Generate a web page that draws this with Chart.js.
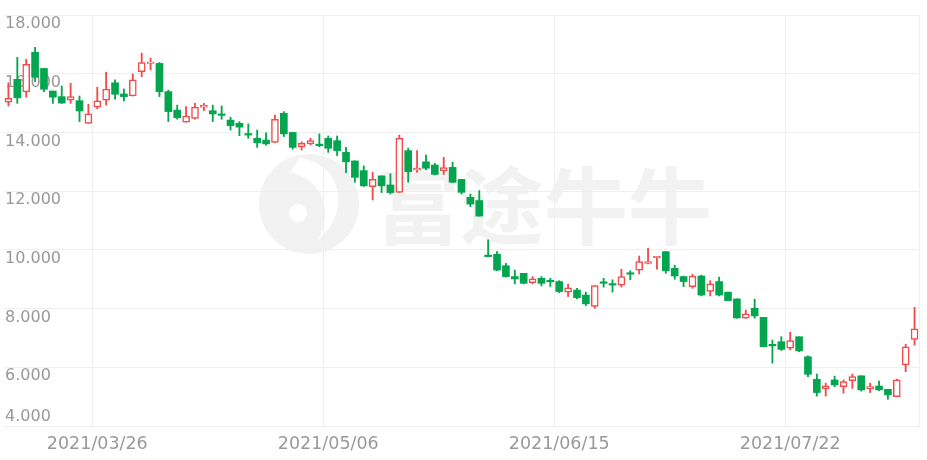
<!DOCTYPE html>
<html><head><meta charset="utf-8">
<script src="https://cdn.jsdelivr.net/npm/chart.js@4.4.1/dist/chart.umd.min.js"></script>
<style>html,body{margin:0;padding:0;background:#fff;overflow:hidden;} #wrap{width:927px;height:460px;position:relative;}</style>
</head><body><div id="wrap"><canvas id="c" width="927" height="460" style="width:927px;height:460px;"></canvas></div>
<script>
const dates = [
"2021/03/12","2021/03/15","2021/03/16","2021/03/17","2021/03/18","2021/03/19","2021/03/22","2021/03/23","2021/03/24","2021/03/25",
"2021/03/26","2021/03/29","2021/03/30","2021/03/31","2021/04/01","2021/04/07","2021/04/08","2021/04/09","2021/04/12","2021/04/13",
"2021/04/14","2021/04/15","2021/04/16","2021/04/19","2021/04/20","2021/04/21","2021/04/22","2021/04/23","2021/04/26","2021/04/27",
"2021/04/28","2021/04/29","2021/04/30","2021/05/03","2021/05/04","2021/05/05","2021/05/06","2021/05/07","2021/05/10","2021/05/11",
"2021/05/12","2021/05/13","2021/05/14","2021/05/17","2021/05/18","2021/05/20","2021/05/21","2021/05/24","2021/05/25","2021/05/26",
"2021/05/27","2021/05/28","2021/05/31","2021/06/01","2021/06/02","2021/06/03","2021/06/04","2021/06/07","2021/06/08","2021/06/09",
"2021/06/10","2021/06/11","2021/06/15","2021/06/16","2021/06/17","2021/06/18","2021/06/21","2021/06/22","2021/06/23","2021/06/24",
"2021/06/25","2021/06/28","2021/06/29","2021/06/30","2021/07/02","2021/07/05","2021/07/06","2021/07/07","2021/07/08","2021/07/09",
"2021/07/12","2021/07/13","2021/07/14","2021/07/15","2021/07/16","2021/07/19","2021/07/20","2021/07/21","2021/07/22","2021/07/23",
"2021/07/26","2021/07/27","2021/07/28","2021/07/29","2021/07/30","2021/08/02","2021/08/03","2021/08/04","2021/08/05","2021/08/06",
"2021/08/09","2021/08/10","2021/08/11"];
const openV = [
15.03,15.81,15.38,16.73,16.18,15.41,15.22,15.10,15.08,14.31,
14.86,15.10,15.69,15.31,15.24,16.07,16.35,16.35,15.39,14.76,
14.35,14.48,14.86,14.74,14.62,14.42,14.31,13.95,13.80,13.74,
13.66,14.65,14.00,13.51,13.61,13.57,13.80,13.72,13.32,13.03,
12.70,12.15,12.52,12.21,11.96,13.38,12.72,13.00,12.89,12.69,
12.81,12.40,11.79,11.68,9.80,9.85,9.46,9.09,9.20,8.88,
9.03,8.94,8.92,8.56,8.63,8.46,8.07,8.90,8.84,8.80,
9.20,9.31,9.54,9.73,9.94,9.37,9.09,8.75,9.11,8.58,
8.92,8.56,8.33,7.67,8.01,7.70,6.76,6.87,6.65,7.04,
6.36,5.59,5.26,5.57,5.34,5.54,5.71,5.27,5.36,5.25,
5.00,6.08,6.95];
const highV = [
15.69,16.56,16.49,16.90,16.18,15.41,15.58,15.67,15.24,14.96,
15.54,16.05,15.79,15.48,15.99,16.70,16.53,16.38,15.44,14.93,
14.88,14.99,14.99,14.93,14.90,14.52,14.37,14.29,14.08,13.99,
14.59,14.71,14.00,13.68,13.80,13.95,13.88,13.88,13.49,13.03,
12.86,12.64,12.52,12.59,13.91,13.46,13.38,13.23,12.95,13.15,
12.98,12.40,11.90,12.02,10.34,9.94,9.54,9.31,9.20,9.09,
9.09,9.03,8.95,8.83,8.69,8.56,8.78,9.03,8.98,9.34,
9.29,9.79,10.05,9.77,9.94,9.48,9.11,9.17,9.14,8.95,
9.07,8.56,8.33,7.95,8.32,7.70,6.93,7.04,7.19,7.04,
6.39,5.77,5.46,5.70,5.57,5.77,5.71,5.46,5.53,5.25,
5.60,6.78,8.04];
const lowV = [
14.90,14.99,15.20,15.73,15.39,14.99,14.99,14.99,14.37,14.31,
14.80,14.93,15.13,15.07,15.24,15.90,16.13,15.22,14.37,14.45,
14.35,14.45,14.74,14.37,14.45,14.08,13.89,13.80,13.49,13.57,
13.66,13.86,13.43,13.40,13.57,13.51,13.32,13.21,12.63,12.30,
12.16,11.70,11.95,11.90,11.96,12.30,12.64,12.72,12.55,12.57,
12.30,11.90,11.47,11.15,9.77,9.29,9.07,8.84,8.84,8.84,
8.77,8.75,8.54,8.41,8.33,8.10,8.01,8.73,8.56,8.73,
8.98,9.18,9.52,9.34,9.20,9.00,8.75,8.69,8.43,8.43,
8.43,8.27,7.67,7.67,7.67,6.70,6.14,6.57,6.59,6.53,
5.68,5.02,5.02,5.34,5.12,5.28,5.19,5.14,5.20,4.91,
5.00,5.85,6.76];
const closeV = [
15.16,15.18,16.32,15.88,15.47,15.20,15.00,15.22,14.73,14.63,
15.08,15.48,15.30,15.22,15.79,16.38,16.39,15.39,14.71,14.50,
14.56,14.86,14.93,14.63,14.58,14.23,14.18,13.91,13.65,13.61,
14.45,13.95,13.49,13.63,13.72,13.55,13.46,13.38,13.00,12.47,
12.18,12.40,12.18,11.95,13.80,12.66,12.78,12.78,12.57,12.80,
12.30,11.96,11.56,11.15,9.77,9.31,9.09,9.01,8.86,9.01,
8.86,8.91,8.58,8.71,8.37,8.16,8.78,8.86,8.80,9.09,
9.17,9.60,9.60,9.77,9.29,9.11,8.92,9.11,8.46,8.84,
8.46,8.27,7.68,7.82,7.75,6.70,6.73,6.61,6.91,6.56,
5.76,5.14,5.37,5.40,5.51,5.68,5.23,5.34,5.23,5.06,
5.57,6.70,7.31];
const yTicks = [4, 6, 8, 10, 12, 14, 16, 18];
const shownLabelIdx = [10, 36, 62, 88];

const UP = '#f34a4a', DOWN = '#03a64e', GRID = '#efefef', TXT = '#999999';
const isUp = closeV.map((c, i) => c >= openV[i]);
const bodies = openV.map((o, i) => [o, closeV[i]]);
const wicks = lowV.map((l, i) => [l, highV[i]]);

const watermark = {
  id: 'watermark',
  beforeDraw(chart) {
    const ctx = chart.ctx;
    ctx.save();
    ctx.fillStyle = '#f2f2f2';
    ctx.beginPath(); ctx.arc(309, 204, 50, 0, Math.PI * 2); ctx.fill();
    ctx.fillStyle = '#ffffff';
    ctx.beginPath();
    ctx.moveTo(300, 158);
    ctx.bezierCurveTo(345, 165, 350, 215, 318, 240);
    ctx.bezierCurveTo(335, 205, 320, 180, 290, 172);
    ctx.closePath(); ctx.fill();
    ctx.beginPath(); ctx.arc(298, 213, 9, 0, Math.PI * 2); ctx.fill();
    ctx.fillStyle = '#f2f2f2';
    ctx.font = 'bold 84px "Noto Sans CJK SC"';
    ctx.textAlign = 'left'; ctx.textBaseline = 'middle';
    ctx.fillText('富途牛牛', 376, 206);
    ctx.restore();
  }
};
const yLabels = {
  id: 'ylabels',
  beforeDatasetsDraw(chart) {
    const ctx = chart.ctx, s = chart.scales.y;
    ctx.save();
    ctx.font = '16px "DejaVu Sans"';
    ctx.fillStyle = TXT; ctx.textAlign = 'left';
    yTicks.forEach((v, i) => {
      const y = s.getPixelForValue(v);
      if (i === 0) { ctx.textBaseline = 'alphabetic'; ctx.fillText(v.toFixed(3), 5, y - 5); }
      else { ctx.textBaseline = 'top'; ctx.fillText(v.toFixed(3), 5, y + 1); }
    });
    ctx.restore();
  }
};

new Chart(document.getElementById('c'), {
  type: 'bar',
  data: {
    labels: dates,
    datasets: [
      {
        label: 'body', data: bodies, grouped: false, barThickness: 7, minBarLength: 1.5,
        backgroundColor: ctx => isUp[ctx.dataIndex] ? '#ffffff' : DOWN,
        borderColor: ctx => isUp[ctx.dataIndex] ? UP : DOWN,
        borderWidth: ctx => isUp[ctx.dataIndex] ? 1.5 : 0,
        borderSkipped: false
      },
      {
        label: 'wick', data: wicks, grouped: false, barThickness: 1.2,
        backgroundColor: ctx => isUp[ctx.dataIndex] ? UP : DOWN,
        borderWidth: 0
      }
    ]
  },
  options: {
    responsive: false, animation: false, maintainAspectRatio: false,
    devicePixelRatio: 1,
    layout: { padding: { left: 4, right: 8, top: 15, bottom: -3 } },
    plugins: { legend: { display: false }, tooltip: { enabled: false } },
    scales: {
      x: {
        type: 'category', offset: true,
        border: { display: false },
        grid: {
          offset: true, drawTicks: false,
          color: ctx => (ctx.index === undefined || shownLabelIdx.includes(ctx.index)) ? GRID : 'rgba(0,0,0,0)'
        },
        ticks: {
          autoSkip: false, maxRotation: 0, minRotation: 0, padding: 8,
          color: TXT, font: { family: 'DejaVu Sans', size: 17.5 },
          callback: (v, i) => shownLabelIdx.includes(i) ? dates[i] : ''
        }
      },
      y: {
        min: 4, max: 18,
        border: { display: false },
        grid: { color: GRID, drawTicks: false },
        ticks: { display: false, stepSize: 2 }
      }
    }
  },
  plugins: [watermark, yLabels]
});
</script>
</body></html>
